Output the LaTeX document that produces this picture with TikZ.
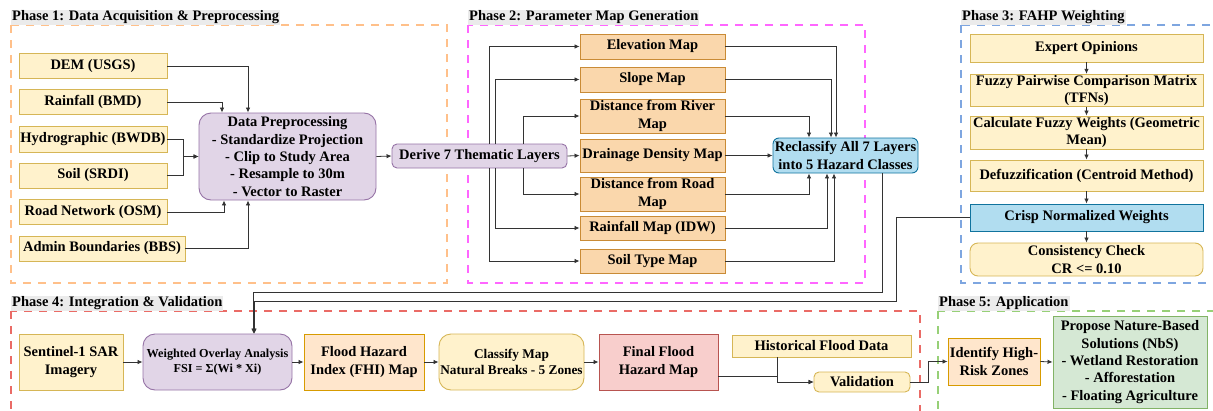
\documentclass[tikz,border=0pt]{standalone}
\usepackage{fontspec}
\setmainfont{Liberation Serif}
\usetikzlibrary{arrows.meta}

\definecolor{yelFill}{HTML}{FFF2CC}
\definecolor{yelLine}{HTML}{D6B656}
\definecolor{purFill}{HTML}{E1D5E7}
\definecolor{purLine}{HTML}{9673A6}
\definecolor{orgFill}{HTML}{FAD7AC}
\definecolor{orgLine}{HTML}{C98B36}
\definecolor{peaFill}{HTML}{FFE6CC}
\definecolor{peaLine}{HTML}{D79B00}
\definecolor{bluFill}{HTML}{B1DDF0}
\definecolor{bluLine}{HTML}{10739E}
\definecolor{redFill}{HTML}{F8CECC}
\definecolor{redLine}{HTML}{B85450}
\definecolor{grnFill}{HTML}{D5E8D4}
\definecolor{grnLine}{HTML}{82B366}
\definecolor{wire}{HTML}{333333}
\definecolor{phaseA}{HTML}{FFC08A}
\definecolor{phaseB}{HTML}{FF66FF}
\definecolor{phaseC}{HTML}{7EA6E0}
\definecolor{phaseD}{HTML}{EA6B66}
\definecolor{phaseE}{HTML}{97D077}

\tikzset{
  txt/.style={font=\bfseries\fontsize{14.5}{17.3}\selectfont},
  sz/.style 2 args={minimum width=#1pt, minimum height=#2pt},
  box/.style={txt, draw, line width=0.9pt, align=center, inner sep=1pt},
  yel/.style={box, fill=yelFill, draw=yelLine},
  pur/.style={box, fill=purFill, draw=purLine},
  org/.style={box, fill=orgFill, draw=orgLine},
  pea/.style={box, fill=peaFill, draw=peaLine},
  blu/.style={box, fill=bluFill, draw=bluLine},
  red/.style={box, fill=redFill, draw=redLine},
  grn/.style={box, fill=grnFill, draw=grnLine},
  link/.style={draw=wire, line width=0.8pt, -{Latex[length=5pt,width=4.5pt]}},
  frame/.style={line width=1.2pt, dash pattern=on 8pt off 7pt},
  ptitle/.style={txt, fill=black!8, anchor=south west, inner sep=1pt}
}

\begin{document}
\begin{tikzpicture}[x=1pt,y=-1pt]
\useasboundingbox (0,0) rectangle (1213,410);

% phase frames
\draw[frame, draw=phaseA] (11,25) rectangle (447,283);
\draw[frame, draw=phaseB] (468,25) rectangle (865,283);
\draw[frame, draw=phaseC] (961,25) rectangle (1225,283);
\draw[frame, draw=phaseD] (11,311) rectangle (920,425);
\draw[frame, draw=phaseE] (938,311) rectangle (1225,425);

\node[ptitle] (tA) at (11,25) {Phase 1: Data Acquisition \& Preprocessing};
\node[ptitle] (tB) at (468,25) {Phase 2: Parameter Map Generation};
\node[ptitle] (tC) at (961,25) {Phase 3: FAHP Weighting};
\node[ptitle] (tD) at (11,311) {Phase 4: Integration \& Validation};
\node[ptitle] (tE) at (938,311) {Phase 5: Application};

% phase 1
\node[yel, sz={148}{25}] (dem) at (93,66) {DEM (USGS)};
\node[yel, sz={148}{25}] (rain) at (93,102) {Rainfall (BMD)};
\node[yel, sz={148}{26}] (hydro) at (93,139) {Hydrographic (BWDB)};
\node[yel, sz={148}{25}] (soil) at (93,175.5) {Soil (SRDI)};
\node[yel, sz={148}{25}] (road) at (93,212) {Road Network (OSM)};
\node[yel, sz={166}{25}] (admin) at (102,248.5) {Admin Boundaries (BBS)};

\node[pur, sz={177}{87}, rounded corners=12pt] (prep) at (287.5,156.5) {
  Data Preprocessing\\
  - Standardize Projection\\
  - Clip to Study Area\\
  - Resample to 30m\\
  - Vector to Raster
};
\node[pur, sz={175}{24}, rounded corners=5pt] (derive) at (479.5,156) {Derive 7 Thematic Layers};

\draw[link] (dem.east) -| ([xshift=-39.5pt]prep.north);
\draw[link] (rain.east) -| ([xshift=-65.5pt]prep.north);
\draw[link] (hydro.east) -- ++(16,0) |- (prep.west);
\draw[link] (soil.east) -- ++(16,0) |- (prep.west);
\draw[link] (road.east) -| ([xshift=-63.5pt]prep.south);
\draw[link] (admin.east) -| ([xshift=-39.5pt]prep.south);
\draw[link] (prep.east) -- (derive.west);

% phase 2
\node[org, sz={145}{25}] (elev) at (652.5,46.5) {Elevation Map};
\node[org, sz={145}{25}] (slope) at (652.5,79.5) {Slope Map};
\node[org, sz={145}{34}] (river) at (652.5,116) {Distance from River\\Map};
\node[org, sz={145}{33}] (drain) at (652.5,155.5) {Drainage Density Map};
\node[org, sz={145}{34}] (roadmap) at (652.5,194) {Distance from Road\\Map};
\node[org, sz={145}{24}] (rainmap) at (652.5,228) {Rainfall Map (IDW)};
\node[org, sz={145}{24}] (soilmap) at (652.5,261) {Soil Type Map};

\node[blu, sz={145}{35}, rounded corners=6pt] (reclass) at (845.5,155.5) {Reclassify All 7 Layers\\into 5 Hazard Classes};

\draw[link] ([xshift=9.5pt]derive.north) |- (elev.west);
\draw[link] ([xshift=15.5pt]derive.north) |- (slope.west);
\draw[link] ([xshift=43.5pt]derive.north) |- (river.west);
\draw[link] (derive.east) -- (drain.west);
\draw[link] ([xshift=43.5pt]derive.south) |- (roadmap.west);
\draw[link] ([xshift=15.5pt]derive.south) |- (rainmap.west);
\draw[link] ([xshift=9.5pt]derive.south) |- (soilmap.west);

\draw[link] (elev.east) -| ([xshift=-9.5pt]reclass.north);
\draw[link] (slope.east) -| ([xshift=-14.5pt]reclass.north);
\draw[link] (river.east) -| ([xshift=-36.5pt]reclass.north);
\draw[link] (drain.east) -- (reclass.west);
\draw[link] (roadmap.east) -| ([xshift=-36.5pt]reclass.south);
\draw[link] (rainmap.east) -| ([xshift=-18.5pt]reclass.south);
\draw[link] (soilmap.east) -| ([xshift=-11.5pt]reclass.south);

% phase 3
\node[yel, sz={233}{28}] (expert) at (1086.5,48) {Expert Opinions};
\node[yel, sz={233}{31}] (pairwise) at (1086.5,90.5) {Fuzzy Pairwise Comparison Matrix\\(TFNs)};
\node[yel, sz={233}{33}] (fweights) at (1086.5,132.5) {Calculate Fuzzy Weights (Geometric\\Mean)};
\node[yel, sz={233}{31}] (defuzz) at (1086.5,175.5) {Defuzzification (Centroid Method)};
\node[blu, sz={233}{27}] (crisp) at (1086.5,217.5) {Crisp Normalized Weights};
\node[yel, sz={233}{33}, rounded corners=8pt] (consist) at (1086.5,259.5) {Consistency Check\\CR <= 0.10};

\foreach \a/\b in {expert/pairwise, pairwise/fweights, fweights/defuzz, defuzz/crisp, crisp/consist}
  \draw[link] (\a.south) -- (\b.north);

% phase 4
\node[yel, sz={104}{56}] (sar) at (71,362) {Sentinel-1 SAR\\Imagery};
\node[pur, sz={149}{56}, rounded corners=12pt, font=\bfseries\fontsize{12.2}{15}\selectfont] (overlay) at (217.5,362) {Weighted Overlay Analysis\\FSI = Σ(Wi * Xi)};
\node[pea, sz={120}{56}] (fhi) at (364,362) {Flood Hazard\\Index (FHI) Map};
\node[yel, sz={145}{56}, rounded corners=12pt, font=\bfseries\fontsize{13.3}{16.5}\selectfont] (classify) at (511.5,362) {Classify Map\\Natural Breaks - 5 Zones};
\node[red, sz={119}{56}] (final) at (658.5,362) {Final Flood\\Hazard Map};
\node[yel, sz={179}{22}] (hist) at (821.5,346) {Historical Flood Data};
\node[yel, sz={96}{20}, rounded corners=5pt] (valid) at (862,382) {Validation};

\draw[link] ([xshift=36.5pt]reclass.south) -- ++(0,119) -| ([xshift=36pt]overlay.north);
\draw[link] (crisp.west) -- ++(-73,0) -- ++(0,83.5) -| ([xshift=37pt]overlay.north);

\draw[link] (sar.east) -- (overlay.west);
\draw[link] (overlay.east) -- (fhi.west);
\draw[link] (fhi.east) -- (classify.west);
\draw[link] (classify.east) -- (final.west);
\draw[link] ([yshift=-14pt]final.east) -- ++(59,0) |- (valid.west);
\draw[link] ([xshift=-44.5pt]hist.south) |- (valid.west);

% phase 5
\node[pea, sz={92}{47}] (identify) at (994,361.5) {Identify High-\\Risk Zones};
\node[grn, sz={154}{92}] (nbs) at (1130,362) {
  Propose Nature-Based\\
  Solutions (NbS)\\
  - Wetland Restoration\\
  - Afforestation\\
  - Floating Agriculture
};

\draw[link] (valid.east) -- ++(18,0) |- (identify.west);
\draw[link] (identify.east) -- (nbs.west);
\end{tikzpicture}
\end{document}
